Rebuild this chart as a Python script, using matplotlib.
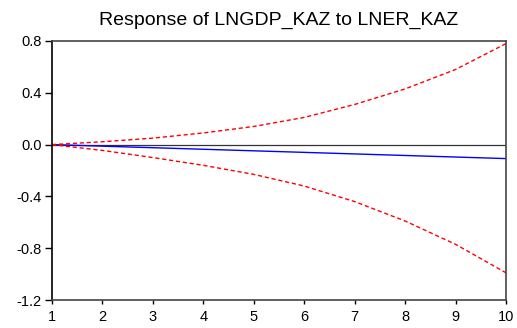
import matplotlib
matplotlib.use("Agg")
import matplotlib.pyplot as plt

# impulse response periods
periodos = [1, 2, 3, 4, 5, 6, 7, 8, 9, 10]
respuesta = [0.0, -0.012, -0.024, -0.036, -0.048, -0.060, -0.072, -0.084, -0.096, -0.108]
banda_sup = [0.0, 0.022, 0.05, 0.09, 0.14, 0.21, 0.31, 0.43, 0.58, 0.78]
banda_inf = [0.0, -0.045, -0.10, -0.16, -0.23, -0.32, -0.44, -0.59, -0.77, -0.99]
yticks = [0.8, 0.4, 0.0, -0.4, -0.8, -1.2]

plt.rcParams['font.family'] = ['Liberation Sans', 'DejaVu Sans']

fig = plt.figure(figsize=(5.17, 3.28), dpi=100)
ax = fig.add_axes([52 / 517, 28 / 328, 454 / 517, 259 / 328])

ax.axhline(0, color='#333333', linewidth=0.9)
ax.plot(periodos, respuesta, color='blue', linewidth=1.0)
ax.plot(periodos, banda_sup, color='red', linewidth=1.0, linestyle=(0, (3, 2)))
ax.plot(periodos, banda_inf, color='red', linewidth=1.0, linestyle=(0, (3, 2)))

ax.set_xlim(1, 10)
ax.set_ylim(-1.2, 0.8)
ax.set_xticks(periodos)
ax.set_yticks(yticks)
ax.set_yticklabels([f"{v:.1f}" for v in yticks])
ax.tick_params(axis='y', direction='out', length=5, width=1, labelsize=10.5, pad=2.5)
ax.tick_params(axis='x', direction='out', length=3, width=1, labelsize=10.5, pad=4)
for s in ax.spines.values():
    s.set_linewidth(1.2)
    s.set_color('#444444')
ax.spines['left'].set_color('black')

ax.set_title('Response of LNGDP_KAZ to LNER_KAZ', fontsize=14, pad=12)

fig.savefig('out.png', dpi=100)
